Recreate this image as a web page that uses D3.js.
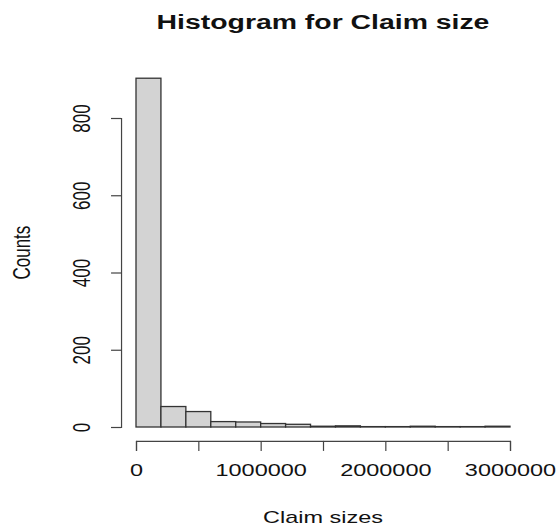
<!DOCTYPE html>
<html>
<head>
<meta charset="utf-8">
<script src="https://cdn.jsdelivr.net/npm/d3@7"></script>
<style>
  html, body { margin: 0; padding: 0; background: #fff; }
  svg { display: block; }
  text { font-family: "Liberation Sans", Arial, Helvetica, sans-serif; fill: #111; }
</style>
</head>
<body>
<script>
// Histogram of claim sizes: bin breaks, counts per bin and axis ticks
const binBreaks = [0, 200000, 400000, 600000, 800000, 1000000, 1200000, 1400000,
                   1600000, 1800000, 2000000, 2200000, 2400000, 2600000, 2800000, 3000000];
const binCounts = [903, 53, 40, 14, 13, 9, 7, 2, 3, 1, 1, 2, 1, 1, 2];
const xTickValues = [0, 500000, 1000000, 1500000, 2000000, 2500000, 3000000];
const xTickLabels = ["0", "", "1000000", "", "2000000", "", "3000000"];
const yTickValues = [0, 200, 400, 600, 800];
const titleText = "Histogram for Claim size";
const xTitle = "Claim sizes";
const yTitle = "Counts";

const W = 557, H = 529;
const textStretch = 1.38;   // horizontal widening of the lettering
const titleStretch = 1.42;

const bins = binCounts.map((c, i) => ({ x0: binBreaks[i], x1: binBreaks[i + 1], count: c }));

const x = d3.scaleLinear().domain([0, 3000000]).range([136, 510]);
const y = d3.scaleLinear().domain([0, 800]).range([427, 118]);

// plot region (axis ranges padded by 4%) used to centre the titles
const plotLeft = x(-120000), plotRight = x(3120000);
const plotTop = y(939), plotBottom = y(-36);
const midX = (plotLeft + plotRight) / 2;
const midY = (plotTop + plotBottom) / 2;

const svg = d3.select("body").append("svg")
  .attr("width", W).attr("height", H);

// bars
svg.append("g").selectAll("rect")
  .data(bins)
  .join("rect")
  .attr("x", d => x(d.x0))
  .attr("width", d => x(d.x1) - x(d.x0))
  .attr("y", d => y(d.count))
  .attr("height", d => y(0) - y(d.count))
  .attr("fill", "#d3d3d3")
  .attr("stroke", "#333")
  .attr("stroke-width", 1.3);

// x axis along the bottom edge of the plot region
const gx = svg.append("g")
  .attr("transform", `translate(0,${plotBottom})`)
  .call(d3.axisBottom(x).tickValues(xTickValues).tickSizeOuter(0).tickSize(10)
    .tickFormat((d, i) => xTickLabels[i]));
gx.select(".domain").attr("stroke", "#444").attr("stroke-width", 1.2);
gx.selectAll(".tick line").attr("stroke", "#444").attr("stroke-width", 1.2);
gx.selectAll(".tick text")
  .attr("y", null).attr("dy", null)
  .attr("transform", `translate(0,35) scale(${textStretch},1)`)
  .attr("font-size", 17)
  .style("fill", "#111");

// y axis along the left edge of the plot region
const gy = svg.append("g")
  .attr("transform", `translate(${plotLeft},0)`)
  .call(d3.axisLeft(y).tickValues(yTickValues).tickSizeOuter(0).tickSize(10)
    .tickFormat(d3.format("d")));
gy.select(".domain").attr("stroke", "#444").attr("stroke-width", 1.2);
gy.selectAll(".tick line").attr("stroke", "#444").attr("stroke-width", 1.2);
gy.selectAll(".tick text")
  .attr("x", null).attr("dy", "0.35em")
  .attr("text-anchor", "middle")
  .attr("transform", `translate(-39,0) scale(${textStretch},1) rotate(-90)`)
  .attr("font-size", 17)
  .style("fill", "#111");

// titles
svg.append("text")
  .attr("transform", `translate(${midX},29) scale(${titleStretch},1)`)
  .attr("text-anchor", "middle")
  .attr("font-size", 20)
  .attr("font-weight", "bold")
  .text(titleText);

svg.append("text")
  .attr("transform", `translate(${midX},523) scale(${textStretch},1)`)
  .attr("text-anchor", "middle")
  .attr("font-size", 17)
  .text(xTitle);

svg.append("text")
  .attr("transform", `translate(22,${midY}) scale(${textStretch},1) rotate(-90)`)
  .attr("text-anchor", "middle")
  .attr("dy", "0.35em")
  .attr("font-size", 17)
  .text(yTitle);
</script>
</body>
</html>
